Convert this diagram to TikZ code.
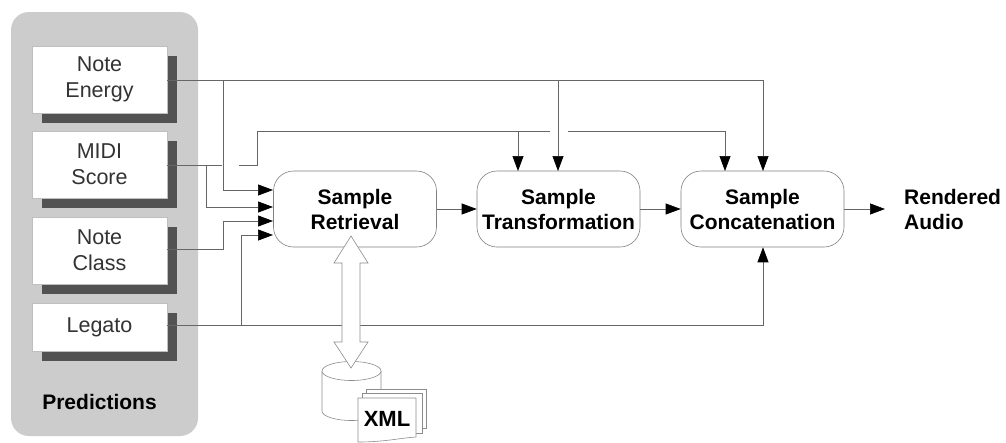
\documentclass[tikz,border=0pt]{standalone}
\usepackage{fontspec}
\setmainfont{Liberation Sans}
\usetikzlibrary{arrows.meta,calc}
\tikzset{
  x=1pt,y=-1pt,
  wire/.style={draw=black!60,line width=0.7pt},
  arrowwire/.style={wire,-{Triangle[length=15pt,width=11pt,fill=black,color=black]}},
  inputbox/.style={draw=black!25,line width=0.5pt,fill=white,minimum width=135pt,align=center,font=\fontsize{21.5}{26}\selectfont,inner sep=0pt,text=black!80},
  shadowbox/.style={fill=black!68,draw=none},
  procbox/.style={draw=black!50,line width=0.6pt,fill=white,rounded corners=20pt,minimum width=163pt,minimum height=76pt,align=center,inner sep=0pt,font=\fontsize{21}{25}\selectfont\bfseries},
  outline/.style={draw=black!45,line width=0.6pt,fill=white},
  lbl/.style={font=\fontsize{21}{25}\selectfont\bfseries,inner sep=0pt,align=left},
}
\begin{document}
\begin{tikzpicture}
\useasboundingbox (0,0) rectangle (1006,442);
\fill[white] (0,0) rectangle (1006,442);
\fill[black!20,rounded corners=18pt] (11,12) rectangle (198,436);
% shadows
\fill[shadowbox] (42,56) rectangle (177,123);
\fill[shadowbox] (42,141) rectangle (177,208);
\fill[shadowbox] (42,227) rectangle (177,294);
\fill[shadowbox] (42,313) rectangle (177,361);
% input boxes
\node[inputbox,minimum height=67pt] (energy) at (99.5,79.5) {Note\\Energy};
\node[inputbox,minimum height=67pt] (midi) at (99.5,164.5) {MIDI\\Score};
\node[inputbox,minimum height=67pt] (class) at (99.5,250.5) {Note\\Class};
\node[inputbox,minimum height=48pt] (legato) at (99.5,327) {Legato};
\node[lbl,anchor=center] (pred) at (99.5,402) {Predictions};
% process boxes
\node[procbox] (ret) at (355,209) {Sample\\Retrieval};
\node[procbox] (tra) at (558.5,209) {Sample\\Transformation};
\node[procbox] (con) at (762.5,209) {Sample\\Concatenation};
\node[lbl,anchor=west] (out) at (904,209) {Rendered\\Audio};
% named junctions
\coordinate (eS) at (167,80);
\coordinate (mS) at (167,165);
\coordinate (cS) at (167,249);
\coordinate (lS) at (167,325);
\coordinate (retA) at (273,190);
\coordinate (retB) at (273,207);
\coordinate (retC) at (273,221);
\coordinate (retD) at (273,235);
\coordinate (tAa) at (518,171);
\coordinate (tAb) at (558,171);
\coordinate (cAa) at (725,171);
\coordinate (cAb) at (763,171);
\coordinate (outEnd) at (885,209);
% Note energy
\draw[wire] (eS) -- (763,80);
\draw[arrowwire] (223,80) -- (223,190) -- (retA);
\draw[arrowwire] (558,80) -- (tAb);
\draw[arrowwire] (763,80) -- (cAb);
% MIDI
\draw[wire] (mS) -- (222,165);
\draw[arrowwire] (206,165) -- (206,207) -- (retB);
\draw[wire] (239,165) -- (257.5,165) -- (257.5,131) -- (550,131);
\draw[arrowwire] (518,131) -- (tAa);
\draw[arrowwire] (568,131) -- (725,131) -- (cAa);
% Note class
\draw[arrowwire] (cS) -- (223,249) -- (223,221) -- (retC);
% Legato
\draw[arrowwire] (lS) -- (763,325) -- (con.south -| cAb);
\draw[arrowwire] (241,325) -- (241,235) -- (retD);
% Between boxes
\draw[arrowwire] (ret.east) -- (tra.west);
\draw[arrowwire] (tra.east) -- (con.west);
\draw[arrowwire] (con.east) -- (outEnd);
% cylinder
\draw[outline] (322,371) -- (322,411) arc[start angle=180,end angle=360,x radius=29.5,y radius=-9.5] -- (381,371);
\draw[outline] (351.5,371) ellipse[x radius=29.5,y radius=9.5];
% double arrow
\draw[outline] (351,236) -- (368,263) -- (360,263) -- (360,342) -- (368,342) -- (351,368) -- (334,342) -- (342,342) -- (342,263) -- (334,263) -- cycle;
% xml pages
\draw[outline] (366,389) -- (426,389) -- (426,428) -- (366,428) -- cycle;
\draw[outline] (362,393) -- (422,393) -- (422,433) -- (362,433) -- cycle;
\draw[outline] (358,398) -- (416,398) -- (416,437) .. controls (400,438) and (385,442) .. (358,442) -- cycle;
\node[font=\fontsize{22}{24}\selectfont\bfseries,inner sep=0pt] (xml) at (387,419) {XML};
\end{tikzpicture}
\end{document}
